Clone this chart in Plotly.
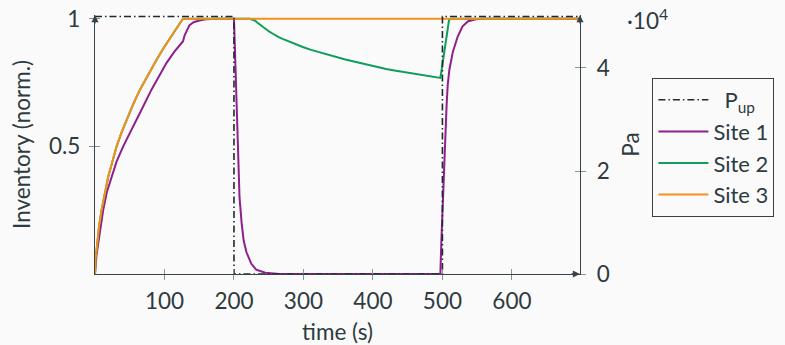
import plotly.graph_objects as go

# --- readings -------------------------------------------------------------
# Site 3 (normalised inventory)
t_site3 = [0, 0.8, 3.3, 6, 9.6, 14, 19.1, 25, 31.1, 38, 45.5, 55, 64.7, 76,
           88.6, 99, 110, 118, 126.5, 698]
site3 = [0, 0.06, 0.121, 0.19, 0.252, 0.32, 0.382, 0.44, 0.5, 0.553, 0.604,
         0.665, 0.722, 0.78, 0.839, 0.886, 0.931, 0.965, 1, 1]

# Site 2 (normalised inventory)
t_site2 = [0, 0.8, 3.3, 6, 9.6, 14, 19.1, 25, 31.1, 38, 45.5, 55, 64.7, 76,
           88.6, 99, 110, 118, 126.5, 222.6, 226, 230, 233, 237, 241, 246,
           251, 256, 260, 265, 270, 275.3, 281, 287, 293, 299, 311, 323, 335,
           347, 359, 371, 383, 395, 407, 419, 431, 443, 455, 467, 482, 497,
           500, 503, 505.5, 507.6, 509.5, 512, 698]
site2 = [0, 0.06, 0.121, 0.19, 0.252, 0.32, 0.382, 0.44, 0.5, 0.553, 0.604,
         0.665, 0.722, 0.78, 0.839, 0.886, 0.931, 0.965, 1, 1, 0.998, 0.993,
         0.986, 0.977, 0.968, 0.958, 0.949, 0.941, 0.934, 0.927, 0.921,
         0.915, 0.908, 0.902, 0.895, 0.889, 0.878, 0.868, 0.859, 0.85, 0.841,
         0.833, 0.825, 0.818, 0.81, 0.803, 0.797, 0.792, 0.786, 0.781, 0.774,
         0.768, 0.82, 0.879, 0.93, 0.975, 0.995, 1, 1]

# Site 1 (normalised inventory)
t_site1 = [0, 1, 2, 4.7, 8, 11.9, 17, 23.9, 31, 40.6, 50, 59.8, 70, 81.3, 92,
           102.8, 114, 124.3, 126.7, 129, 132, 136, 142, 150, 160, 175, 200,
           200.8, 201.6, 202.5, 204, 206, 208, 211, 214, 218, 225, 232, 245,
           265, 497, 498.5, 500.4, 502.5, 504.3, 506, 507.6, 510, 515, 522,
           529, 537, 548, 560, 698]
site1 = [0, 0.045, 0.07, 0.121, 0.19, 0.252, 0.32, 0.382, 0.44, 0.5, 0.553,
         0.604, 0.66, 0.722, 0.775, 0.826, 0.87, 0.905, 0.912, 0.935, 0.955,
         0.975, 0.986, 0.993, 0.998, 1, 1, 0.93, 0.86, 0.78, 0.65, 0.45, 0.3,
         0.2, 0.13, 0.085, 0.04, 0.017, 0.005, 0, 0, 0.13, 0.28, 0.42, 0.55,
         0.66, 0.74, 0.8, 0.87, 0.93, 0.97, 0.99, 0.998, 1, 1]

# Upstream pressure (Pa)
t_pup = [0, 200, 200, 500, 500, 698]
pup = [50000, 50000, 0, 0, 50000, 50000]

x_ticks = [100, 200, 300, 400, 500, 600]
y_ticks = [0.5, 1]
y_tick_text = ["0.5", "1"]
pa_ticks = [0, 20000, 40000]
pa_tick_text = ["0", "2", "4"]

# --- styling ---------------------------------------------------------------
FONT = "Lato"
INK = "#2e3a40"
AXIS = "#36444a"
TICK = "#8a9397"
BG = "#fafafa"
PURPLE = "#8e1f8c"
GREEN = "#0f9d58"
ORANGE = "#f5901e"
FS = 22.5
LEG_FS = 22

X_RANGE = [0, 698]
Y_RANGE = [0, 1.0145]
PA_RANGE = [0, 50290]

fig = go.Figure()

fig.add_trace(go.Scatter(
    x=t_pup, y=pup, yaxis="y2", mode="lines", name="\u2002P<sub>up</sub>",
    line=dict(color="#1e2a2f", width=1.6, dash="7px,3px,1.5px,3px"),
))
fig.add_trace(go.Scatter(
    x=t_site1, y=site1, mode="lines", name="Site 1",
    line=dict(color=PURPLE, width=2),
))
fig.add_trace(go.Scatter(
    x=t_site2, y=site2, mode="lines", name="Site 2",
    line=dict(color=GREEN, width=2),
))
fig.add_trace(go.Scatter(
    x=t_site3, y=site3, mode="lines", name="Site 3",
    line=dict(color=ORANGE, width=2),
))

# empty traces that carry the inward half of each tick mark
fig.add_trace(go.Scatter(x=[None], y=[None], xaxis="x3", yaxis="y3",
                         showlegend=False, hoverinfo="skip"))
fig.add_trace(go.Scatter(x=[None], y=[None], xaxis="x3", yaxis="y4",
                         showlegend=False, hoverinfo="skip"))

tickfont = dict(family=FONT, size=FS, color=INK)
titlefont = dict(family=FONT, size=FS, color=INK)

fig.update_layout(
    width=785, height=345,
    margin=dict(l=95, r=204.5, t=15, b=71, autoexpand=False),
    paper_bgcolor=BG, plot_bgcolor=BG,
    font=dict(family=FONT, size=FS, color=INK),
    showlegend=True,
    legend=dict(
        x=1.1493, y=0.7568, xanchor="left", yanchor="top",
        bgcolor=BG, bordercolor="#3a3f42", borderwidth=1,
        font=dict(family=FONT, size=LEG_FS, color=INK),
        tracegroupgap=0, itemwidth=50,
    ),
    xaxis=dict(
        range=X_RANGE, showgrid=False, zeroline=False, automargin=False,
        showline=True, linecolor=AXIS, linewidth=1.3,
        tickvals=x_ticks, ticks="outside", ticklen=5, tickcolor=TICK,
        tickwidth=1, tickfont=tickfont, ticklabelstandoff=2,
        title=dict(text="time (s)", font=titlefont, standoff=14),
    ),
    yaxis=dict(
        range=Y_RANGE, showgrid=False, zeroline=False, automargin=False,
        showline=True, linecolor=AXIS, linewidth=1.3,
        tickvals=y_ticks, ticktext=y_tick_text, ticks="outside", ticklen=5,
        tickcolor=TICK, tickwidth=1, tickfont=tickfont, ticklabelstandoff=4,
        title=dict(text="Inventory (norm.)", font=titlefont, standoff=12),
    ),
    yaxis2=dict(
        range=PA_RANGE, overlaying="y", side="right", anchor="x",
        showgrid=False, zeroline=False, automargin=False,
        showline=True, linecolor=AXIS, linewidth=1.3,
        tickvals=pa_ticks, ticktext=pa_tick_text, ticks="outside", ticklen=5,
        tickcolor=TICK, tickwidth=1, tickfont=tickfont, ticklabelstandoff=6,
        title=dict(text="Pa", font=titlefont, standoff=14),
    ),
    xaxis3=dict(
        range=X_RANGE, overlaying="x", anchor="y3", showgrid=False,
        zeroline=False, showline=False, tickvals=x_ticks, ticks="inside",
        ticklen=5, tickcolor=TICK, tickwidth=1, showticklabels=False,
        automargin=False,
    ),
    yaxis3=dict(
        range=Y_RANGE, overlaying="y", anchor="x3", side="left",
        showgrid=False, zeroline=False, showline=False, tickvals=y_ticks,
        ticks="inside", ticklen=5, tickcolor=TICK, tickwidth=1,
        showticklabels=False, automargin=False,
    ),
    yaxis4=dict(
        range=PA_RANGE, overlaying="y", anchor="x3", side="right",
        showgrid=False, zeroline=False, showline=False, tickvals=pa_ticks,
        ticks="inside", ticklen=5, tickcolor=TICK, tickwidth=1,
        showticklabels=False, automargin=False,
    ),
)

# arrow tips on the axes and the power-of-ten factor of the pressure axis
arrow = dict(showarrow=True, arrowhead=2, arrowsize=1.1, arrowwidth=1.3,
             arrowcolor=AXIS, text="", xref="paper", yref="paper")
fig.add_annotation(x=0, y=1, ax=0, ay=10, **arrow)
fig.add_annotation(x=1, y=1, ax=0, ay=10, **arrow)
fig.add_annotation(x=1, y=0, ax=-10, ay=0, **arrow)
fig.add_annotation(
    x=1.0937, y=0.985, xref="paper", yref="paper", xanchor="left",
    yanchor="middle", showarrow=False, text="·10<sup>4</sup>",
    font=dict(family=FONT, size=FS, color=INK),
)

fig.write_html("out.html")
